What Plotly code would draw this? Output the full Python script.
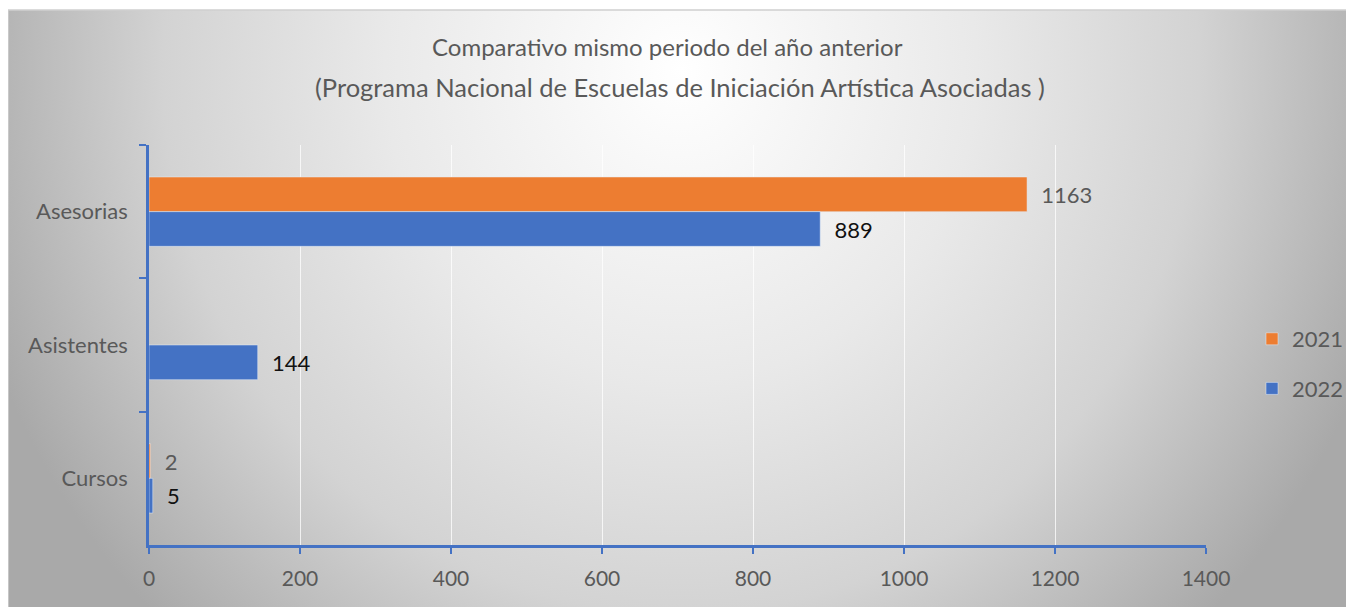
import base64
import plotly.graph_objects as go

categories = ["Asesorias", "Asistentes", "Cursos"]
values_2021 = [1163, None, 2]
values_2022 = [889, 144, 5]
x_ticks = [0, 200, 400, 600, 800, 1000, 1200, 1400]
title_line1 = "Comparativo mismo periodo del año anterior"
title_line2 = "(Programa Nacional de Escuelas de Iniciación Artística Asociadas )"

# page body has an 8px margin; screen coords below are converted to figure coords
OFF = 8
W, H = 1354 - OFF, 607 - OFF
L, R, T, B = 149 - OFF, 1354 - 1206, 145 - OFF, 607 - 545
pw, ph = W - L - R, H - T - B

FONT = "Lato"
GRAY = "#595959"
BLUE = "#4472C4"
ORANGE = "#ED7D31"

fig = go.Figure()
fig.add_trace(go.Bar(
    y=categories, x=values_2021, name="2021", orientation="h",
    marker=dict(color=ORANGE), legendgroup="a", legendrank=1,
    texttemplate="  %{x}", textposition="outside", cliponaxis=False,
    textfont=dict(family=FONT, size=22, color=GRAY),
))
fig.add_trace(go.Bar(
    y=categories, x=values_2022, name="2022", orientation="h",
    marker=dict(color=BLUE), legendgroup="b", legendrank=2,
    texttemplate="  %{x}", textposition="outside", cliponaxis=False,
    textfont=dict(family=FONT, size=22, color="#111111"),
))

svg = (
    '<svg xmlns="http://www.w3.org/2000/svg" width="1346" height="597" viewBox="0 0 1346 597" preserveAspectRatio="none">'
    '<defs><radialGradient id="g" gradientUnits="userSpaceOnUse" cx="0" cy="0" r="1" '
    'gradientTransform="translate(673,60) scale(740,776)">'
    '<stop offset="0" stop-color="#ffffff"/><stop offset="0.4" stop-color="#e9e9e9"/>'
    '<stop offset="0.7" stop-color="#d3d3d3"/><stop offset="1" stop-color="#a9a9a9"/>'
    '</radialGradient></defs>'
    '<rect x="0" y="0" width="1346" height="597" fill="url(#g)"/></svg>'
)
src = "data:image/svg+xml;base64," + base64.b64encode(svg.encode()).decode()

# helpers: screen pixel -> paper coordinate
def px(xs):
    return (xs - 149) / pw

def py(ys):
    return (545 - ys) / ph

fig.update_layout(
    width=W, height=H,
    margin=dict(l=L, r=R, t=T, b=B, autoexpand=False),
    paper_bgcolor="white",
    plot_bgcolor="rgba(0,0,0,0)",
    barmode="group", bargap=0.48, bargroupgap=0,
    font=dict(family=FONT, size=22, color=GRAY),
    showlegend=True,
    legend=dict(
        x=px(1252), xanchor="left",
        y=py(364), yanchor="middle",
        traceorder="grouped", tracegroupgap=18,
        font=dict(family=FONT, size=22, color=GRAY),
        bgcolor="rgba(0,0,0,0)", itemwidth=30,
    ),
    images=[dict(
        source=src, xref="paper", yref="paper",
        x=px(8), y=py(10),
        sizex=1346 / pw, sizey=597 / ph,
        xanchor="left", yanchor="top", sizing="stretch", layer="below",
    )],
    annotations=[
        dict(text=title_line1, xref="paper", yref="paper", x=px(667), y=py(47),
             xanchor="center", yanchor="middle", showarrow=False,
             font=dict(family=FONT, size=24, color=GRAY)),
        dict(text=title_line2, xref="paper", yref="paper", x=px(680), y=py(87),
             xanchor="center", yanchor="middle", showarrow=False,
             font=dict(family=FONT, size=25.5, color=GRAY)),
    ],
    shapes=[dict(type="rect", xref="paper", yref="paper",
                 x0=px(8), x1=px(1358), y0=py(610), y1=py(10),
                 line=dict(color="#d0d0d0", width=1.5), layer="below")],
)

fig.update_xaxes(
    range=[0, 1400], tickvals=x_ticks, ticktext=[str(v) for v in x_ticks],
    showgrid=True, gridcolor="rgba(255,255,255,0.75)", gridwidth=1,
    showline=True, linecolor=BLUE, linewidth=2.5,
    ticks="outside", tickcolor=BLUE, ticklen=6, tickwidth=1.5,
    ticklabelstandoff=7, zeroline=False, automargin=False,
    tickfont=dict(family=FONT, size=21, color=GRAY),
)
fig.update_yaxes(
    type="category", categoryorder="array", categoryarray=categories,
    autorange="reversed",
    showline=True, linecolor=BLUE, linewidth=2.5,
    ticks="outside", tickson="boundaries", tickcolor=BLUE, ticklen=7, tickwidth=2,
    showgrid=False, ticklabelstandoff=14, automargin=False,
    tickfont=dict(family=FONT, size=22, color=GRAY),
)

fig.write_html("out.html")
